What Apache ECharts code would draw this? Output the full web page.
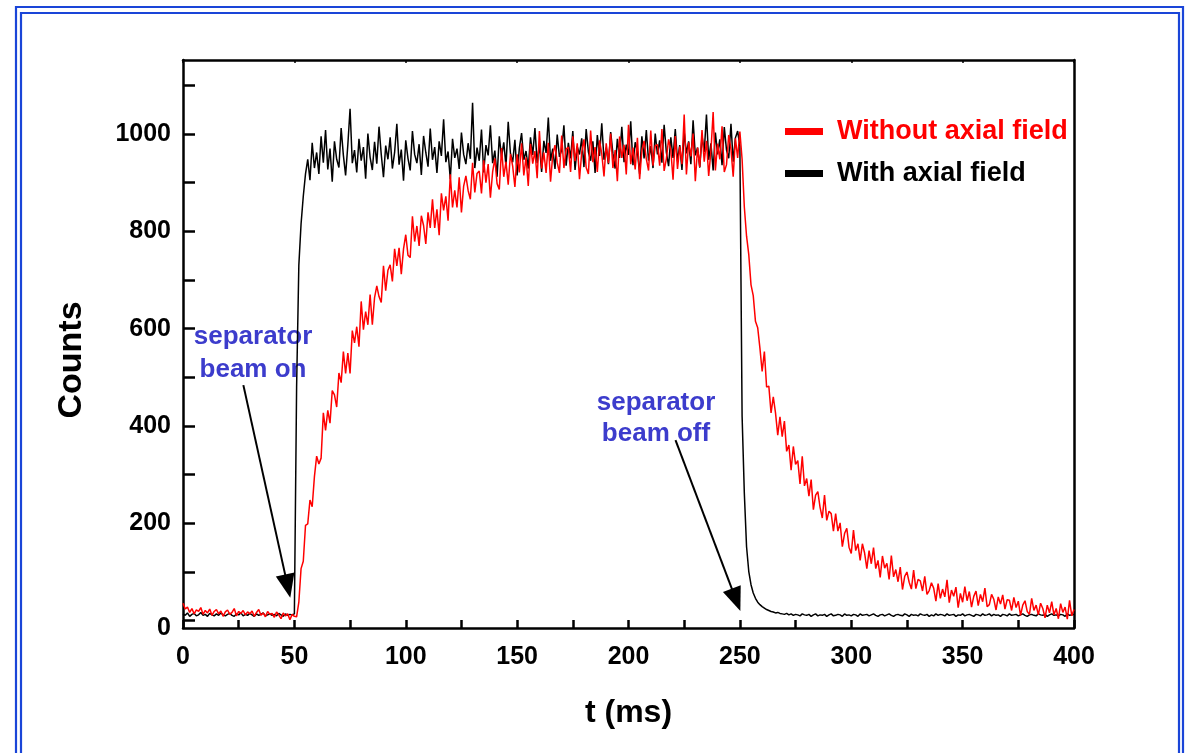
<!DOCTYPE html>
<html>
<head>
<meta charset="utf-8">
<script src="https://cdn.jsdelivr.net/npm/echarts@6/dist/echarts.min.js"></script>
<style>
  html, body { margin: 0; padding: 0; background: #ffffff; }
  #chart { width: 1192px; height: 753px; }
</style>
</head>
<body>
<div id="chart"></div>
<script>
// ---------------- data ----------------
// sample time grid, 1 ms per sample, 0..400 ms
const TIME_MS = Array.from({ length: 401 }, (_, i) => i);

// Counts, "With axial field" (black)
const WITH_FIELD = [
  14, 11, 16, 9, 13, 15, 10, 12, 17, 11,
  13, 9, 15, 12, 10, 14, 11, 16, 12, 10,
  13, 15, 11, 9, 14, 12, 16, 10, 13, 11,
  15, 12, 9, 14, 11, 13, 16, 10, 12, 14,
  11, 13, 10, 15, 12, 9, 14, 11, 13, 12,
  14, 480, 730, 815, 872, 918, 948, 905, 982, 930,
  962, 918, 995, 941, 1008, 927, 970, 902, 985, 948,
  931, 1012, 956, 915, 978, 1052, 940, 967, 921, 990,
  945, 973, 908, 1001, 952, 926, 984, 939, 1015, 958,
  911, 976, 948, 993, 929, 962, 1021, 937, 968, 904,
  987, 950, 925, 1006, 958, 940, 979, 916, 996, 962,
  933, 1011, 947, 973, 920, 985, 955, 1030, 942, 964,
  907, 990, 951, 970, 928, 1003, 958, 938, 981, 949,
  1064, 930, 972, 945, 1009, 921, 977, 956, 1018, 940,
  966, 912, 995, 952, 983, 934, 1025, 960, 942, 988,
  915, 971, 1002, 947, 965, 929, 993, 957, 1012, 940,
  978, 922, 986, 961, 1034, 945, 970, 928, 999, 953,
  967, 1018, 935, 982, 950, 1006, 926, 974, 958, 991,
  932, 1010, 963, 945, 985, 920, 998, 955, 1022, 947,
  972, 938, 1004, 960, 929, 990, 951, 1015, 942, 978,
  957, 1026, 936, 983, 964, 918, 995, 950, 1008, 945,
  975, 930, 1001, 958, 987, 941, 1019, 962, 934, 993,
  951, 1010, 944, 977, 926, 1004, 960, 985, 938, 1028,
  956, 972, 931, 996, 963, 1040, 947, 981, 925, 1003,
  958, 989, 936, 1014, 967, 950, 1021, 943, 992, 1006,
  975, 420, 262, 152, 101, 74, 57, 46, 38, 33,
  29, 26, 23, 21, 19, 18, 16, 17, 15, 14,
  13, 15, 12, 14, 11, 13, 12, 10, 14, 12,
  11, 13, 9, 12, 14, 10, 12, 11, 13, 9,
  12, 14, 10, 11, 13, 12, 9, 14, 11, 12,
  10, 13, 12, 9, 14, 11, 12, 13, 10, 12,
  14, 11, 9, 12, 13, 10, 12, 14, 11, 9,
  12, 13, 11, 10, 14, 12, 9, 13, 11, 12,
  10, 14, 12, 11, 13, 9, 12, 10, 14, 11,
  13, 12, 10, 14, 11, 12, 13, 9, 12, 11,
  14, 10, 12, 13, 11, 9, 13, 12, 10, 14,
  11, 12, 14, 10, 13, 11, 12, 9, 13, 12,
  10, 14, 11, 12, 13, 10, 12, 14, 11, 9,
  12, 13, 11, 10, 14, 12, 11, 13, 9, 12,
  14, 11, 12, 10, 13, 12, 9, 14, 11, 12,
  13
];

// Counts, "Without axial field" (red)
const WITHOUT_FIELD = [
  36, 24, 28, 17, 25, 14, 22, 19, 27, 13,
  21, 16, 24, 11, 19, 23, 14, 20, 9, 18,
  22, 13, 17, 25, 10, 19, 15, 21, 12, 18,
  14, 20, 9, 17, 23, 11, 16, 8, 19, 13,
  15, 7, 18, 12, 4, 16, 10, 14, 2, 13,
  9, 8, 38, 107, 122, 196, 199, 248, 234, 296,
  338, 322, 334, 427, 391, 432, 406, 473, 464, 439,
  509, 489, 553, 508, 550, 508, 596, 571, 604, 563,
  656, 598, 635, 608, 670, 608, 664, 688, 666, 654,
  729, 678, 720, 731, 697, 764, 729, 766, 712, 764,
  793, 751, 746, 831, 779, 811, 770, 832, 812, 774,
  839, 807, 866, 807, 845, 792, 878, 843, 872, 822,
  917, 849, 884, 849, 911, 839, 893, 914, 884, 866,
  941, 880, 919, 924, 878, 946, 900, 938, 869, 922,
  950, 898, 886, 971, 912, 943, 896, 959, 934, 891,
  958, 921, 981, 915, 952, 893, 980, 939, 965, 909,
  1006, 929, 962, 920, 982, 902, 957, 977, 941, 920,
  997, 930, 969, 973, 922, 995, 944, 981, 907, 962,
  989, 931, 918, 1007, 942, 973, 922, 987, 959, 913,
  981, 940, 1001, 930, 967, 903, 995, 951, 978, 917,
  1019, 938, 972, 927, 992, 907, 966, 986, 949, 925,
  1007, 935, 976, 978, 935, 1010, 924, 949, 989, 967,
  906, 996, 928, 974, 938, 1040, 917, 983, 954, 1001,
  903, 972, 932, 1008, 943, 986, 914, 965, 1045, 925,
  980, 948, 1016, 922, 937, 998, 969, 912, 991, 951,
  1005, 948, 850, 790, 752, 690, 668, 615, 602, 560,
  512, 553, 480, 482, 427, 460, 427, 381, 419, 378,
  410, 348, 361, 309, 358, 321, 329, 281, 338, 277,
  292, 256, 290, 228, 258, 265, 233, 211, 258, 206,
  225, 220, 184, 220, 184, 201, 152, 179, 190, 151,
  138, 186, 144, 158, 124, 158, 139, 107, 144, 117,
  150, 107, 124, 89, 133, 108, 118, 85, 134, 90,
  105, 80, 110, 64, 91, 100, 79, 65, 104, 66,
  85, 82, 61, 91, 54, 62, 78, 67, 40, 76,
  46, 65, 49, 84, 37, 63, 50, 69, 27, 56,
  38, 70, 41, 60, 28, 50, 61, 31, 54, 39,
  67, 29, 33, 54, 44, 22, 49, 34, 53, 24,
  43, 42, 21, 48, 27, 40, 11, 32, 41, 19,
  13, 46, 21, 32, 12, 36, 25, 6, 32, 16,
  39, 12, 25, 4, 35, 17, 28, 3, 42, 10,
  23
];

const SERIES_NAMES = ['Without axial field', 'With axial field'];
const X_LABELS = [0, 50, 100, 150, 200, 250, 300, 350, 400];
const X_TICKS = [0, 25, 50, 75, 100, 125, 150, 175, 200, 225, 250, 275, 300, 325, 350, 375, 400];
const Y_LABELS = [0, 200, 400, 600, 800, 1000];
const Y_TICKS = [0, 100, 200, 300, 400, 500, 600, 700, 800, 900, 1000, 1100];
const ANNOTATION_TEXTS = ['separator\nbeam on', 'separator\nbeam off'];
// arrow start / end points, in data units [t (ms), counts]
const ARROWS = [
  { from: [27.1, 484], to: [47.0, 71] },
  { from: [221.1, 371], to: [248.3, 43] }
];

// ---------------- chart ----------------
const FONT = "'Liberation Sans', Arial, sans-serif";
const chart = echarts.init(document.getElementById('chart'), null, { renderer: 'canvas' });

const tickFont = { fontSize: 25, fontWeight: 'bold', fontFamily: FONT, color: '#000' };

const option = {
  backgroundColor: '#ffffff',
  animation: false,
  grid: { left: 183, right: 118, top: 60, bottom: 125, containLabel: false },
  legend: {
    orient: 'vertical',
    left: 780,
    top: 113,
    itemWidth: 38,
    itemHeight: 7,
    itemGap: 15,
    icon: 'rect',
    selectedMode: false,
    textStyle: { fontSize: 27, fontWeight: 'bold', fontFamily: FONT, padding: [0, 0, 0, 9] },
    data: [
      { name: SERIES_NAMES[0], textStyle: { color: '#ff0000' } },
      { name: SERIES_NAMES[1], textStyle: { color: '#000000' } }
    ]
  },
  xAxis: [
    {
      type: 'value', min: 0, max: 400,
      name: 't (ms)', nameLocation: 'middle', nameGap: 69,
      nameTextStyle: { fontSize: 32, fontWeight: 'bold', fontFamily: FONT, color: '#000' },
      axisLine: { show: true, onZero: false, lineStyle: { color: '#000', width: 2.5 } },
      axisTick: { show: true, inside: true, length: 8, customValues: X_TICKS, lineStyle: { color: '#000', width: 2.5 } },
      axisLabel: Object.assign({ customValues: X_LABELS, margin: 17, formatter: v => String(v) }, tickFont),
      splitLine: { show: false }
    },
    {
      type: 'value', min: 0, max: 400, position: 'top',
      axisLine: { show: true, onZero: false, lineStyle: { color: '#000', width: 2.5 } },
      axisTick: { show: true, inside: true, length: 3, customValues: X_LABELS, lineStyle: { color: '#000', width: 1.5 } },
      axisLabel: { show: false },
      splitLine: { show: false }
    }
  ],
  yAxis: [
    {
      type: 'value', min: -15, max: 1152,
      name: 'Counts', nameLocation: 'middle', nameGap: 94,
      nameTextStyle: { fontSize: 34, fontWeight: 'bold', fontFamily: FONT, color: '#000', padding: [0, 32, 0, 0] },
      axisLine: { show: true, onZero: false, lineStyle: { color: '#000', width: 2.5 } },
      axisTick: { show: true, inside: true, length: 12, customValues: Y_TICKS, lineStyle: { color: '#000', width: 2.5 } },
      axisLabel: Object.assign({
        customValues: Y_LABELS, margin: 12,
        formatter: v => (v === 0 ? '{z|0}' : String(v)),
        rich: { z: { padding: [14, 0, 0, 0], fontSize: 25, fontWeight: 'bold', fontFamily: FONT, color: '#000' } }
      }, tickFont),
      splitLine: { show: false }
    },
    {
      type: 'value', min: -15, max: 1152, position: 'right',
      axisLine: { show: true, onZero: false, lineStyle: { color: '#000', width: 2.5 } },
      axisTick: { show: false },
      axisLabel: { show: false },
      splitLine: { show: false }
    }
  ],
  series: [
    {
      name: SERIES_NAMES[1],
      type: 'line',
      showSymbol: false,
      symbol: 'none',
      color: '#000000',
      lineStyle: { color: '#000000', width: 1.5 },
      data: TIME_MS.map((t, i) => [t, WITH_FIELD[i]]),
      z: 2,
      markLine: {
        silent: true,
        animation: false,
        symbol: ['none', 'triangle'],
        symbolSize: [19, 24],
        label: { show: false },
        lineStyle: { color: '#000', width: 2, type: 'solid' },
        data: ARROWS.map(a => [{ coord: a.from }, { coord: a.to }])
      }
    },
    {
      name: SERIES_NAMES[0],
      type: 'line',
      showSymbol: false,
      symbol: 'none',
      color: '#ff0000',
      lineStyle: { color: '#ff0000', width: 1.5 },
      data: TIME_MS.map((t, i) => [t, WITHOUT_FIELD[i]]),
      z: 3
    }
  ],
  graphic: [
    { type: 'rect', silent: true, shape: { x: 16, y: 7, width: 1167, height: 800 },
      style: { fill: 'none', stroke: '#1a45d8', lineWidth: 2.2 } },
    { type: 'rect', silent: true, shape: { x: 21, y: 13, width: 1158, height: 800 },
      style: { fill: 'none', stroke: '#1a45d8', lineWidth: 2.2 } },
    { type: 'text', silent: true, x: 253, y: 320,
      style: { text: ANNOTATION_TEXTS[0], textAlign: 'center', textVerticalAlign: 'top',
               font: "bold 26px 'Liberation Sans', Arial, sans-serif", lineHeight: 33, fill: '#3c3ccc' } },
    { type: 'text', silent: true, x: 656, y: 387,
      style: { text: ANNOTATION_TEXTS[1], textAlign: 'center', textVerticalAlign: 'top',
               font: "bold 26px 'Liberation Sans', Arial, sans-serif", lineHeight: 31, fill: '#3c3ccc' } }
  ]
};

chart.setOption(option);
</script>
</body>
</html>
